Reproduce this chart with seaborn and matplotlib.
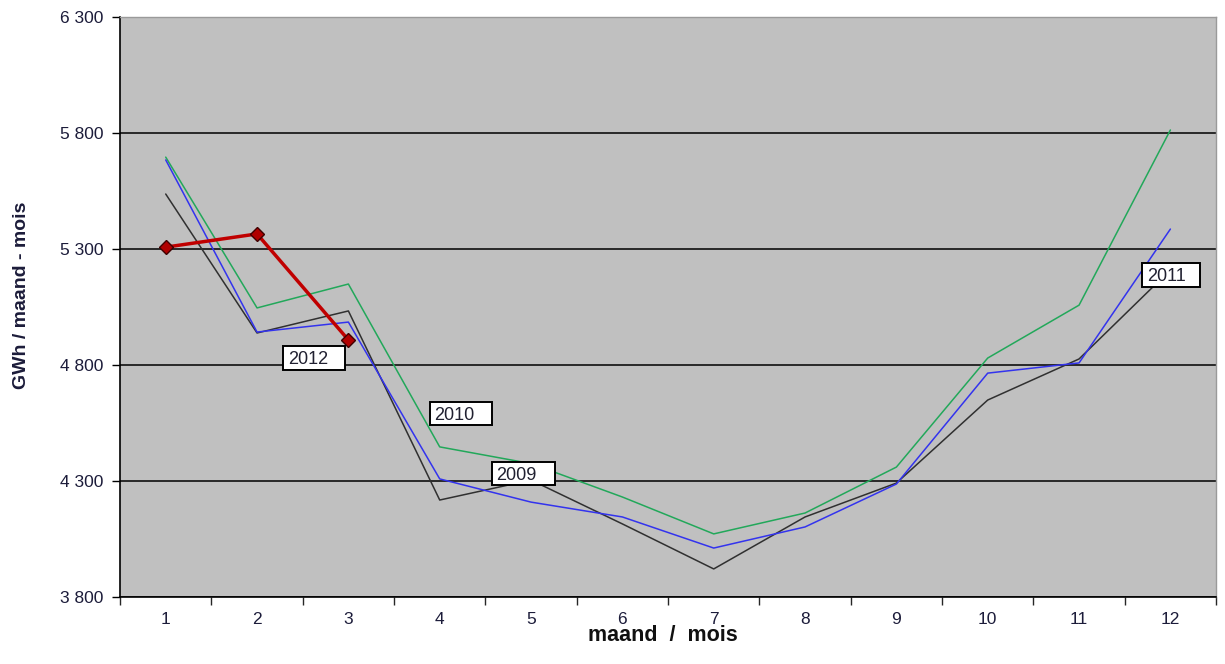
import pandas as pd
import numpy as np
import matplotlib.pyplot as plt
import seaborn as sns
from matplotlib.patches import Rectangle
from matplotlib.ticker import FixedLocator, FuncFormatter

# monthly consumption, GWh
months = list(range(1, 13))
y2009 = [5537, 4938, 5033, 4218, 4304, 4115, 3921, 4145, 4291, 4649, 4826, 5210]
y2010 = [5696, 5046, 5149, 4447, 4375, 4231, 4072, 4162, 4360, 4830, 5058, 5813]
y2011 = [5684, 4942, 4985, 4309, 4209, 4145, 4011, 4102, 4287, 4765, 4809, 5386]
months_2012 = [1, 2, 3]
y2012 = [5308, 5365, 4908]

yticks = [3800, 4300, 4800, 5300, 5800, 6300]
label_years = ["2012", "2010", "2009", "2011"]
label_x = [2.285, 3.894, 4.573, 11.69]
label_y = [4830, 4591, 4333, 5188]
label_w = [0.68, 0.68, 0.69, 0.63]

sns.set_style("white")
plt.rcParams["font.family"] = ["Liberation Sans", "DejaVu Sans"]

fig = plt.figure(figsize=(12.25, 6.64), dpi=100)
ax = fig.add_axes([0.098, 0.1009, 0.8947, 0.8735])
ax.set_facecolor("#c0c0c0")

sns.lineplot(x=months, y=y2009, ax=ax, color="#303030", linewidth=1.1)
sns.lineplot(x=months, y=y2010, ax=ax, color="#22a85a", linewidth=1.1)
sns.lineplot(x=months, y=y2011, ax=ax, color="#3333ee", linewidth=1.1)
sns.lineplot(x=months_2012, y=y2012, ax=ax, color="#c00000", linewidth=2.5,
             marker="D", markersize=7, markerfacecolor="#b00000",
             markeredgecolor="#400000", markeredgewidth=1)

# year labels in white boxes
box_h = 100
for t, x, y, w in zip(label_years, label_x, label_y, label_w):
    ax.add_patch(Rectangle((x, y - box_h / 2), w, box_h, facecolor="white",
                           edgecolor="black", linewidth=1.4, zorder=5))
    ax.text(x + 0.05, y - 8, t, fontsize=13, va="center", ha="left",
            color="#202030", zorder=6)

ax.set_xlim(0.5, 12.5)
ax.set_ylim(3800, 6300)
ax.yaxis.set_major_locator(FixedLocator(yticks))
ax.yaxis.set_major_formatter(FuncFormatter(lambda v, p: "{:,}".format(int(v)).replace(",", " ")))
ax.set_xticks(months)
ax.set_xticks(np.arange(0.5, 13, 1), minor=True)
ax.tick_params(axis="x", which="major", length=0, labelsize=12.5, pad=11, colors="#1c1c3a")
ax.tick_params(axis="x", which="minor", length=6, width=1, direction="out", bottom=True)
ax.tick_params(axis="y", length=6, width=1, direction="out", left=True, labelsize=12.5,
               colors="#1c1c3a", pad=6)
ax.tick_params(axis="both", color="black")
ax.grid(axis="y", color="black", linewidth=1.1)
ax.grid(axis="x", visible=False)
for s in ["left", "bottom"]:
    ax.spines[s].set_color("black")
    ax.spines[s].set_linewidth(1.2)
for s in ["top", "right"]:
    ax.spines[s].set_color("#9a9a9a")
    ax.spines[s].set_linewidth(1)

ax.set_xlabel("maand  /  mois", fontsize=15.5, fontweight="bold", color="#111111")
ax.xaxis.set_label_coords(0.495, -0.049)
ax.xaxis.label.set_va("top")
ax.set_ylabel("GWh / maand - mois", fontsize=14, fontweight="bold", color="#1c1c3a")
ax.yaxis.set_label_coords(-0.082, 0.52)

fig.savefig("out.png", dpi=100)
